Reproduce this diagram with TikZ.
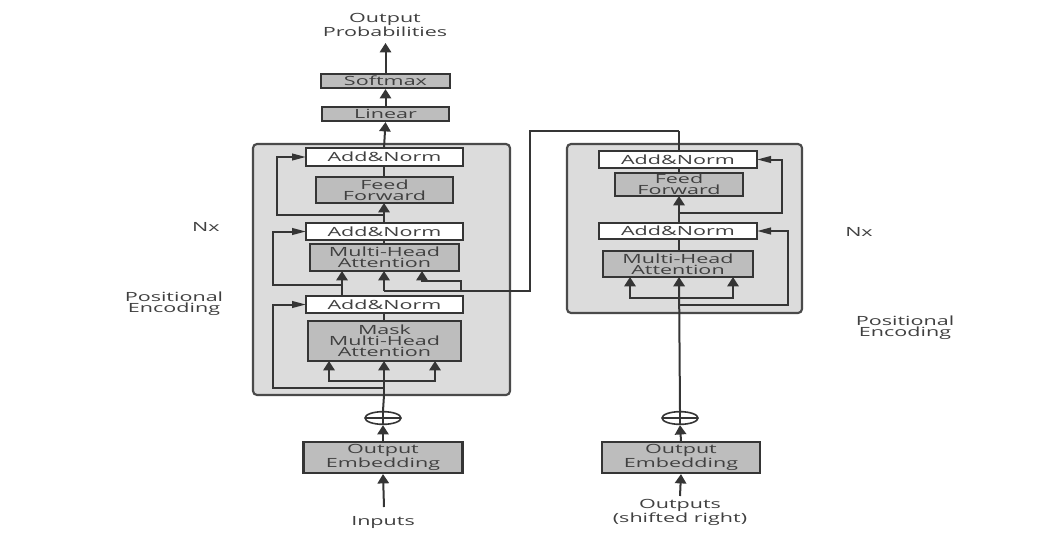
\documentclass[tikz,border=0pt]{standalone}
\usepackage{fontspec}
\setmainfont{Open Sans}[FakeStretch=1.7]
\usetikzlibrary{arrows.meta,shapes.geometric,calc}
\definecolor{txt}{HTML}{404040}
\definecolor{ln}{HTML}{353535}
\definecolor{boxfill}{HTML}{BDBDBD}
\definecolor{contfill}{HTML}{DCDCDC}
\definecolor{contdraw}{HTML}{4A4A4A}
\tikzset{
  lbl/.style={text=txt, align=center, inner sep=0pt},
  gbox/.style={draw=ln, fill=boxfill, line width=1.6pt, text=txt, align=center, inner sep=0pt},
  wbox/.style={draw=ln, fill=white, line width=1.6pt, text=txt, align=center, inner sep=0pt},
  cont/.style={draw=contdraw, fill=contfill, line width=1.6pt, rounded corners=3pt},
  conn/.style={draw=ln, line width=1.5pt},
  arr/.style={conn, -{Triangle[width=8.5pt,length=7pt]}},
  arrh/.style={conn, -{Triangle[width=5pt,length=10.5pt]}},
  opl/.style={draw=ln, line width=1.2pt, ellipse, minimum width=27pt, minimum height=9.5pt, inner sep=0pt,
    path picture={\draw[ln, line width=1.2pt] (path picture bounding box.north) -- (path picture bounding box.south)
      (path picture bounding box.west) -- (path picture bounding box.east);}}
}
\begin{document}
\begin{tikzpicture}[x=0.75pt,y=-0.75pt, font=\fontsize{9.5}{8.3}\selectfont]
\useasboundingbox (0,0) rectangle (1063,543);
% containers
\path[cont] (253,144) rectangle (510,395);
\path[cont] (567,144) rectangle (802,313);

% labels
\node[lbl] (outprob) at (385,25) {Output\\Probabilities};
\node[lbl] (inputs) at (383,522) {Inputs};
\node[lbl] (outputs) at (680,512) {Outputs\\(shifted right)};
\node[lbl] (nxL) at (206,227) {Nx};
\node[lbl] (peL) at (174,304) {Positional\\Encoding};
\node[lbl] (nxR) at (859,232) {Nx};
\node[lbl] (peR) at (905,328) {Positional\\Encoding};

\node[opl] (oplusL) at (383,418) {};
\node[opl] (oplusR) at (680,418) {};
\coordinate (encTop) at (679,131);
\coordinate (encCorner) at (530,131);

\node[gbox, minimum width=96.75pt, minimum height=10.5pt] (softmax) at (385.5,81) {Softmax};
\node[gbox, minimum width=95.25pt, minimum height=10.5pt] (linear) at (385.5,114) {Linear};

\node[gbox, minimum width=119.25pt, minimum height=23.25pt] (embL) at (383,457.5) {Output\\Embedding};
\node[gbox, minimum width=118.5pt, minimum height=23.25pt] (embR) at (681,457.5) {Output\\Embedding};

% left lines
\draw[arr] (linear.north) -- (softmax.south);
\draw[arr] (softmax.north) -- (385.5,43);
\draw[arr] (384,507) -- (embL.south);
\draw[arr] (embL.north) -- (oplusL.south);
\draw[conn] (oplusL.north) -- (384,395);
\draw[arr] (384,395) -- (384,361);
\draw[arr] (384,381) -| (329,361);
\draw[arr] (384,381) -| (435,361);
\draw[arrh] (384,388) -| (273,304.5) -- (306,304.5);
\draw[conn] (384,361) -- (384,296);
\draw[arr] (342,296) -- (342,271);
\draw[arrh] (342,285) -| (273,231.5) -- (306,231.5);
\draw[conn] (encTop) -- (encCorner) |- (384,291);
\draw[arr] (384,291) -- (384,271);
\draw[arr] (461,291) |- (422,281) -- (422,271);
\draw[conn] (384,271) -- (384,223);
\draw[arr] (384,223) -- (384,203);
\draw[arrh] (384,215) -| (277,157) -- (306,157);
\draw[conn] (384,203) -- (384,148);
\draw[arr] (384,148) -- (linear.south);
% right lines
\draw[arr] (680,496) -- (embR.south);
\draw[arr] (embR.north) -- (oplusR.south);
\draw[arr] (oplusR.north) -- (679,277);
\draw[arr] (679,298) -| (630,277);
\draw[arr] (679,298) -| (733,277);
\draw[arrh] (679,305) -| (788,231) -- (757,231);
\draw[conn] (679,277) -- (679,223);
\draw[arr] (679,223) -- (679,196);
\draw[arrh] (679,213) -| (782,159.5) -- (757,159.5);
\draw[conn] (679,196) -- (encTop);

% inner boxes
\node[wbox, minimum width=117.75pt, minimum height=13pt] (anL1) at (384.5,157) {Add\&Norm};
\node[gbox, minimum width=102.75pt, minimum height=19.5pt] (ffL) at (384.5,190) {Feed\\Forward};
\node[wbox, minimum width=117.75pt, minimum height=12.75pt] (anL2) at (384.5,231.5) {Add\&Norm};
\node[gbox, minimum width=111.75pt, minimum height=20.25pt] (mhaL) at (384.5,257.5) {Multi-Head\\Attention};
\node[wbox, minimum width=117.75pt, minimum height=12.75pt] (anL3) at (384.5,304.5) {Add\&Norm};
\node[gbox, minimum width=114.75pt, minimum height=30pt] (maskL) at (384.5,341) {Mask\\Multi-Head\\Attention};

\node[wbox, minimum width=118.5pt, minimum height=12.75pt] (anR1) at (678,159.5) {Add\&Norm};
\node[gbox, minimum width=96pt, minimum height=17.25pt] (ffR) at (679,184.5) {Feed\\Forward};
\node[wbox, minimum width=118.5pt, minimum height=12pt] (anR2) at (678,231) {Add\&Norm};
\node[gbox, minimum width=112.5pt, minimum height=19.5pt] (mhaR) at (678,264) {Multi-Head\\Attention};
\end{tikzpicture}
\end{document}
